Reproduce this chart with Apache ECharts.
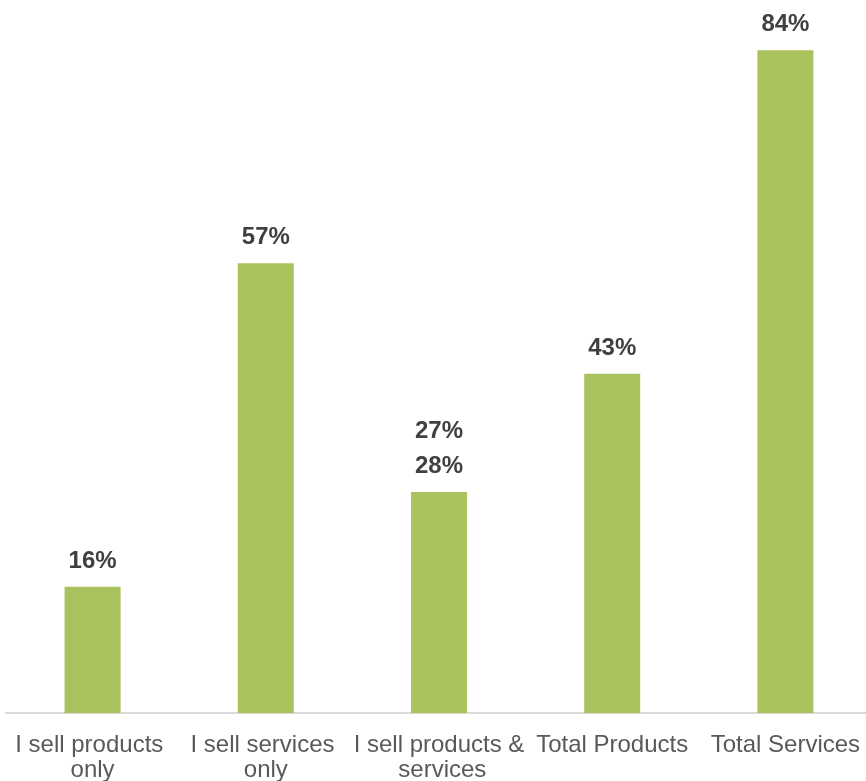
<!DOCTYPE html>
<html>
<head>
<meta charset="utf-8">
<script src="https://cdn.jsdelivr.net/npm/echarts@6/dist/echarts.min.js"></script>
<style>
  html, body { margin: 0; padding: 0; background: #ffffff; }
  #chart { width: 866px; height: 781px; }
</style>
</head>
<body>
<div id="chart"></div>
<script>
// Share of respondents by what they sell (percent)
const categories = [
  'I sell products only',
  'I sell services only',
  'I sell products & services',
  'Total Products',
  'Total Services'
];
const shares = [16, 57, 28, 43, 84];
// Secondary figure shown above a bar's own label (null where none)
const extraLabels = [null, null, 27, null, null];

const FONT = '"Liberation Sans", Arial, Helvetica, sans-serif';

const chart = echarts.init(document.getElementById('chart'), null, { renderer: 'canvas' });

chart.setOption({
  animation: false,
  backgroundColor: '#ffffff',
  grid: {
    left: 6, width: 866, top: 3, bottom: 68,
    containLabel: false,
    outerBoundsMode: 'none'
  },
  xAxis: {
    type: 'category',
    data: categories,
    axisTick: { show: false },
    axisLine: { show: true, lineStyle: { color: '#d9d9d9', width: 2 } },
    axisLabel: {
      interval: 0,
      margin: 20,
      width: 172,
      overflow: 'break',
      color: '#595959',
      fontFamily: FONT,
      fontSize: 24,
      lineHeight: 25
    }
  },
  yAxis: {
    type: 'value',
    min: 0,
    max: 90,
    show: false,
    splitLine: { show: false }
  },
  series: [{
    type: 'bar',
    data: shares,
    barWidth: 56,
    itemStyle: { color: '#a9c25d' },
    label: {
      show: true,
      position: 'top',
      distance: 8,
      formatter: function (p) {
        const extra = extraLabels[p.dataIndex];
        const own = '{v|' + p.value + '%}';
        return extra == null ? own : '{v|' + extra + '%}\n' + own;
      },
      rich: {
        v: {
          color: '#404040',
          fontFamily: FONT,
          fontSize: 24,
          fontWeight: 'bold',
          lineHeight: 35
        }
      }
    }
  }]
});
</script>
</body>
</html>
